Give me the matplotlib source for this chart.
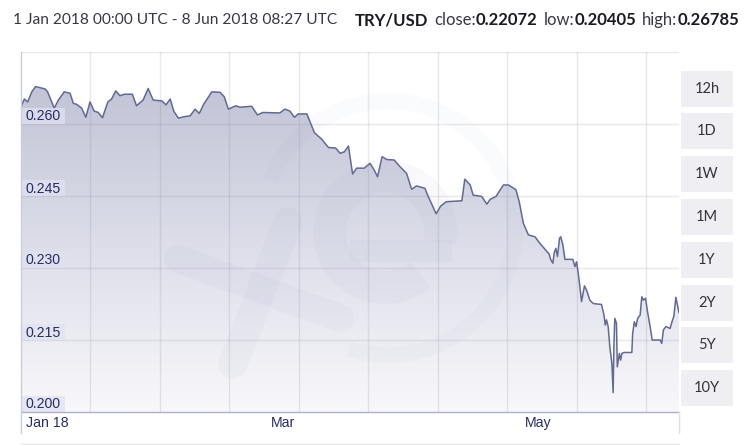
import matplotlib
matplotlib.use("Agg")
import matplotlib.pyplot as plt
import numpy as np
from matplotlib.patches import Rectangle, Wedge
from matplotlib.colors import LinearSegmentedColormap

# ---------------- data ----------------
days = [0.0, 0.8, 1.6, 2.6, 3.5, 5.8, 6.4, 8.0, 9.0, 10.4, 11.8, 12.6, 13.4, 14.6, 15.6,
        16.6, 17.6, 18.6, 19.6, 20.9, 21.8, 22.8, 23.8, 24.9, 26.8, 27.8, 29.4, 30.6, 31.8,
        33.9, 34.9, 35.9, 36.8, 37.9, 39.1, 40.7, 41.9, 42.9, 43.9, 45.9, 47.9, 48.9, 49.9,
        51.7, 52.7, 55.5, 56.9, 58.2, 62.3, 63.5, 64.7, 65.8, 66.7, 68.8, 70.6, 72.4, 74.0,
        75.7, 76.8, 77.8, 78.8, 79.8, 80.8, 82.6, 84.0, 85.0, 85.8, 86.9, 88.0, 89.8, 91.2,
        92.8, 94.0, 95.2, 96.4, 97.2, 98.0, 99.9, 101.0, 102.3, 104.0, 106.1, 106.8, 108.1,
        108.8, 110.9, 112.1, 112.9, 114.3, 116.1, 117.3, 119.1, 119.9, 120.9, 122.1, 123.7,
        124.9, 127.1, 127.5, 128.0, 128.3, 128.7, 129.1, 129.6, 129.9, 130.4, 130.9, 132.8,
        133.3, 133.7, 134.1, 134.5, 134.9, 135.6, 136.1, 136.9, 137.7, 139.7, 140.3, 140.6,
        140.9, 141.3, 141.7, 142.2, 142.5, 142.7, 142.9, 143.3, 143.5, 144.0, 144.3, 144.6,
        145.1, 147.0, 147.2, 147.6, 148.0, 148.4, 149.0, 149.4, 149.8, 150.3, 150.7, 151.4,
        151.9, 153.8, 154.2, 154.6, 155.2, 156.2, 156.8, 157.1, 157.6, 157.9, 158.35]
rate = [0.2636, 0.2652, 0.2646, 0.2667, 0.2678, 0.2673, 0.2667, 0.2633, 0.2650, 0.2667,
        0.2664, 0.2643, 0.2641, 0.2633, 0.2614, 0.2646, 0.2627, 0.2624, 0.2613, 0.2646,
        0.2652, 0.2669, 0.2659, 0.2662, 0.2662, 0.2638, 0.2650, 0.2674, 0.2650, 0.2648,
        0.2640, 0.2652, 0.2626, 0.2612, 0.2615, 0.2617, 0.2631, 0.2622, 0.2640, 0.2667,
        0.2666, 0.2657, 0.2631, 0.2638, 0.2635, 0.2637, 0.2619, 0.2624, 0.2623, 0.2631,
        0.2627, 0.2614, 0.2621, 0.2621, 0.2582, 0.2568, 0.2551, 0.2550, 0.2539, 0.2542,
        0.2554, 0.2496, 0.2508, 0.2508, 0.2518, 0.2504, 0.2490, 0.2532, 0.2526, 0.2525,
        0.2511, 0.2497, 0.2464, 0.2471, 0.2468, 0.2466, 0.2449, 0.2413, 0.2429, 0.2438,
        0.2439, 0.2440, 0.2485, 0.2473, 0.2452, 0.2449, 0.2433, 0.2443, 0.2449, 0.2473,
        0.2473, 0.2463, 0.2438, 0.2393, 0.2369, 0.2365, 0.2351, 0.2329, 0.2317, 0.2310,
        0.2331, 0.2341, 0.2324, 0.2362, 0.2365, 0.2348, 0.2318, 0.2318, 0.2303, 0.2313,
        0.2289, 0.2261, 0.2230, 0.2263, 0.2254, 0.2233, 0.2226, 0.2224, 0.2202, 0.2181,
        0.2192, 0.2178, 0.2136, 0.2101, 0.20405, 0.2143, 0.2195, 0.2185, 0.2094, 0.2122,
        0.2108, 0.2122, 0.2124, 0.2124, 0.2164, 0.2188, 0.2178, 0.2195, 0.2202, 0.2240,
        0.2233, 0.2237, 0.2213, 0.2178, 0.2150, 0.2150, 0.2143, 0.2171, 0.2178, 0.2174,
        0.2192, 0.2199, 0.2239, 0.2226, 0.22072]
y_ticks = [0.200, 0.215, 0.230, 0.245, 0.260, 0.275]
y_labels = ["0.200", "0.215", "0.230", "0.245", "0.260"]
month_days = [0, 59, 120]
month_labels = ["Jan 18", "Mar", "May"]
buttons = ["12h", "1D", "1W", "1M", "1Y", "2Y", "5Y", "10Y"]
header_date = "1 Jan 2018 00:00 UTC - 8 Jun 2018 08:27 UTC"
header_parts = [("TRY/USD", "bold"), ("close:", "normal"), ("0.22072", "bold"),
                ("low:", "normal"), ("0.20405", "bold"), ("high:", "normal"),
                ("0.26785", "bold")]
gap_before = [0, 1, 0, 1, 0, 1, 0]   # word gaps (1) vs joined pieces (0)

# ---------------- layout ----------------
W, H = 754, 445
fig = plt.figure(figsize=(W / 100, H / 100), dpi=100)
fig.patch.set_facecolor("white")

X0, X1, YT, YB = 21, 679, 52, 412
ax = fig.add_axes([X0 / W, 1 - YB / H, (X1 - X0) / W, (YB - YT) / H])
ax.set_xlim(0, 158.35)
ax.set_ylim(0.200, 0.275)
ax.set_facecolor("none")
for s in ax.spines.values():
    s.set_visible(False)
ax.set_xticks([]); ax.set_yticks([])

# gradient fill under the curve
poly = ax.fill_between(days, rate, 0.200, color="none", lw=0)
c_top = np.array([188, 191, 211]) / 255
c_bot = np.array([248, 248, 251]) / 255
cmap = LinearSegmentedColormap.from_list("g", [c_bot, c_top])
grad = np.linspace(0, 1, 256).reshape(-1, 1)
im = ax.imshow(grad, cmap=cmap, aspect="auto", origin="lower",
               extent=[0, 158.35, 0.200, 0.275], zorder=1)
path = poly.get_paths()[0]
im.set_clip_path(path, transform=ax.transData)

# grid
gcol = (0.47, 0.47, 0.6, 0.17)
for yt in y_ticks[1:]:
    ax.axhline(yt, color=gcol, lw=1.0, zorder=3)
for k in range(1, 10):
    ax.axvline(k * 0.10562 * 158.35, color=gcol, lw=1.0, zorder=3)

ax.plot(days, rate, color=(0.38, 0.41, 0.58), lw=1.1, zorder=5)

# pixel overlay
pax = fig.add_axes([0, 0, 1, 1], zorder=10)
pax.set_xlim(0, W); pax.set_ylim(H, 0)
pax.set_axis_off()
pax.patch.set_alpha(0)

# watermark
wm = (0.55, 0.57, 0.72)
pax.add_patch(Wedge((388, 228), 135, -158, 108, width=16, color=wm, alpha=0.035, lw=0))
pax.add_patch(Wedge((385, 232), 72, 50, 370, width=33, color=wm, alpha=0.05, lw=0))
pax.add_patch(Rectangle((350, 240), 102, 22, color=wm, alpha=0.05, lw=0))
pax.plot([178, 340], [259, 318], color=wm, alpha=0.05, lw=20, solid_capstyle="round")
pax.plot([288, 233], [222, 364], color=wm, alpha=0.05, lw=21, solid_capstyle="round")

# frame lines
pax.plot([X0, X1], [YB, YB], color=(0.68, 0.69, 0.80), lw=1.0)
pax.plot([X0, X0], [YT, 433], color=(0.80, 0.80, 0.86), lw=1.0)
pax.plot([X0, X1], [444, 444], color=(0.90, 0.90, 0.93), lw=1.0)
pax.plot([X1, X1], [YB, 433], color=(0.88, 0.88, 0.92), lw=1.0)

# y labels
navy = (0.16, 0.17, 0.40)
for yt, lab in zip(y_ticks, y_labels):
    yp = YB - (yt - 0.200) / 0.075 * (YB - YT)
    pax.add_patch(Rectangle((22, yp - 16), 43, 16, color=(0.88, 0.885, 0.94), alpha=0.75, lw=0))
    pax.text(26, yp - 7.5, lab, fontsize=10.2, color=navy, va="center", ha="left",
             family="Liberation Sans")

# x labels
for d, lab in zip(month_days, month_labels):
    xp = X0 + d / 158.35 * (X1 - X0)
    pax.text(xp + 5, 423, lab, fontsize=10.2, color=navy, va="center", ha="left",
             family="Liberation Sans")

# buttons
btn_top = [71, 113, 156, 199, 242, 285, 327, 370]
for bt, lab in zip(btn_top, buttons):
    pax.add_patch(Rectangle((681, bt), 52, 36, color=(0.933, 0.933, 0.953), lw=0))
    pax.text(707, bt + 18, lab, fontsize=10.5, color=(0.2, 0.2, 0.24), ha="center",
             va="center", family="Lato")

# header
pax.text(13, 20, header_date, fontsize=11.2, family="Lato", color=(0.22, 0.22, 0.26),
         va="center", ha="left")
fig.canvas.draw()
r = fig.canvas.get_renderer()
START, END = 355, 739
texts, widths = [], []
for txt, wt in header_parts:
    t = pax.text(0, 20, txt, fontsize=12.0, fontweight=wt, family="Lato",
                 color=(0.10, 0.10, 0.13) if wt == "bold" else (0.22, 0.22, 0.26),
                 va="center", ha="left")
    texts.append(t)
    widths.append(t.get_window_extent(renderer=r).width)
extra = (END - START - sum(widths))
ngaps = sum(gap_before)
gap = max(extra / ngaps, 3) if ngaps else 0
xcur = START
for t, w, g in zip(texts, widths, gap_before):
    xcur += g * gap
    t.set_x(xcur)
    xcur += w

fig.savefig("out.png", dpi=100, facecolor="white")
